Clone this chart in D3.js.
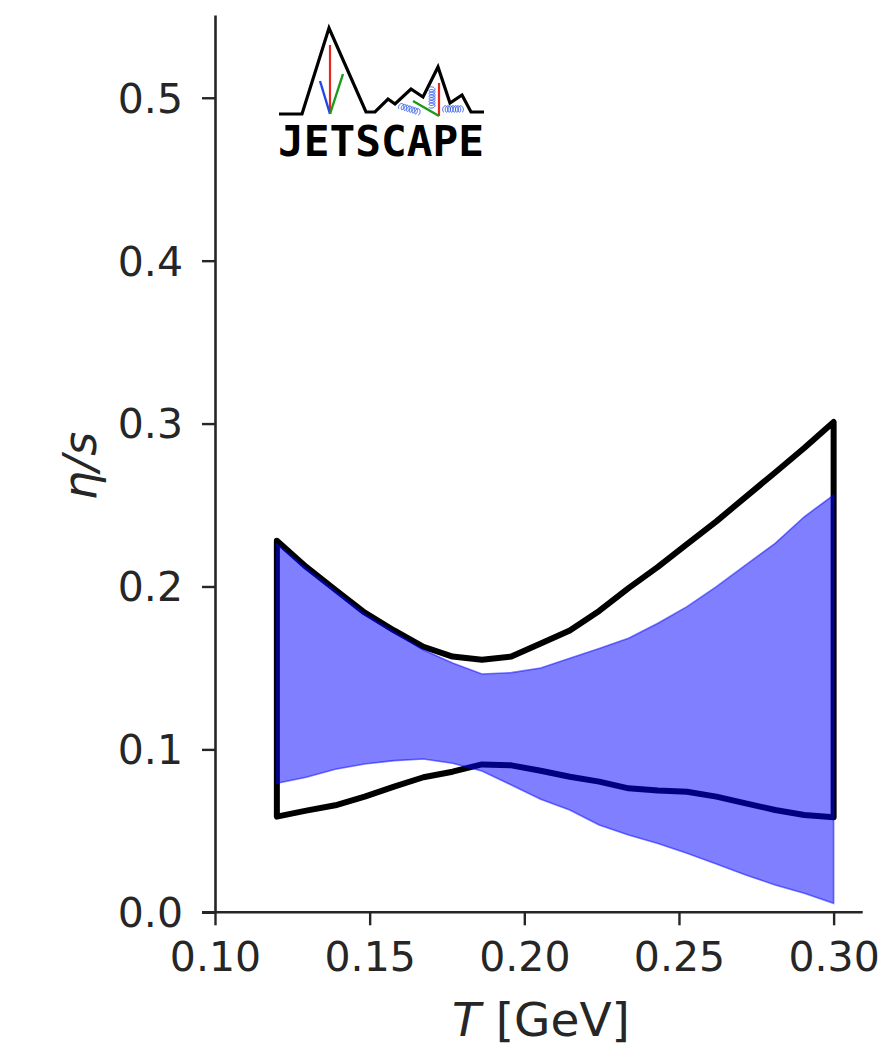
<!DOCTYPE html>
<html>
<head>
<meta charset="utf-8">
<script src="https://cdn.jsdelivr.net/npm/d3@7"></script>
<style>
  html, body { margin: 0; padding: 0; background: #fff; }
  svg { display: block; }
</style>
</head>
<body>
<svg id="chart" width="882" height="1047"></svg>
<script>
// ---- data ----
const temperature = [0.1200, 0.1295, 0.1389, 0.1484, 0.1579, 0.1674, 0.1768, 0.1863, 0.1958, 0.2053,
                     0.2147, 0.2242, 0.2337, 0.2432, 0.2526, 0.2621, 0.2716, 0.2811, 0.2905, 0.3000];
const priorUpper = [0.228, 0.212, 0.198, 0.184, 0.173, 0.163, 0.157, 0.155, 0.157, 0.165,
                    0.173, 0.185, 0.199, 0.212, 0.226, 0.240, 0.255, 0.270, 0.285, 0.301];
const priorLower = [0.0587, 0.0624, 0.0657, 0.0710, 0.0771, 0.0829, 0.0863, 0.0908, 0.0902, 0.0869,
                    0.0832, 0.0802, 0.0761, 0.0747, 0.0740, 0.0710, 0.0669, 0.0628, 0.0597, 0.0583];
const postUpper  = [0.226, 0.211, 0.197, 0.183, 0.172, 0.161, 0.153, 0.1463, 0.1471, 0.150,
                    0.1559, 0.162, 0.1682, 0.1774, 0.1876, 0.1999, 0.2132, 0.2265, 0.2428, 0.2561];
const postLower  = [0.0792, 0.0829, 0.0878, 0.0910, 0.0931, 0.0941, 0.0915, 0.0867, 0.0781, 0.0694,
                    0.0628, 0.0536, 0.0474, 0.0423, 0.0362, 0.0296, 0.0229, 0.0168, 0.0117, 0.0055];
const xTicks = [0.10, 0.15, 0.20, 0.25, 0.30];
const yTicks = [0.0, 0.1, 0.2, 0.3, 0.4, 0.5];

// ---- layout ----
const svg = d3.select("#chart");
const ink = "#262626";
const x = d3.scaleLinear().domain([0.10, 0.3094]).range([215, 862.7]);
const y = d3.scaleLinear().domain([0, 0.5508]).range([912.3, 15]);

// prior band outline (black closed polygon)
const rows = temperature.map((t, i) => ({t, pu: priorUpper[i], pl: priorLower[i], qu: postUpper[i], ql: postLower[i]}));
const outline = rows.map(d => [x(d.t), y(d.pu)]).concat(rows.slice().reverse().map(d => [x(d.t), y(d.pl)]));
svg.append("path")
  .attr("d", d3.line()(outline) + "Z")
  .attr("fill", "none")
  .attr("stroke", "#000")
  .attr("stroke-width", 6)
  .attr("stroke-linejoin", "round")
  .attr("stroke-linecap", "round");

// posterior band (blue, alpha 0.5)
const area = d3.area().x(d => x(d.t)).y0(d => y(d.ql)).y1(d => y(d.qu));
svg.append("path")
  .attr("d", area(rows) + "Z")
  .attr("fill", "blue")
  .attr("fill-opacity", 0.5)
  .attr("stroke", "blue")
  .attr("stroke-opacity", 0.5)
  .attr("stroke-width", 1.6);

// ---- axes ----
const xAxis = svg.append("g").attr("transform", `translate(0,${y(0)})`)
  .call(d3.axisBottom(x).tickValues(xTicks).tickFormat(d3.format(".2f")).tickSize(13).tickSizeOuter(0));
const yAxis = svg.append("g").attr("transform", `translate(${x(0.10)},0)`)
  .call(d3.axisLeft(y).tickValues(yTicks).tickFormat(d3.format(".1f")).tickSize(13).tickSizeOuter(0));

[xAxis, yAxis].forEach(g => {
  g.select(".domain").attr("stroke", ink).attr("stroke-width", 2.6);
  g.selectAll(".tick line").attr("stroke", ink).attr("stroke-width", 2.4);
  g.selectAll(".tick text")
    .attr("fill", ink)
    .style("font-family", "'DejaVu Sans', sans-serif")
    .style("font-size", "41px");
});
xAxis.selectAll(".tick text").attr("y", 30).attr("dy", "0.71em");
yAxis.selectAll(".tick text").attr("x", -32).attr("dy", "0.35em");
xAxis.select(".domain").attr("d", `M${x(0.10) - 13},0H${x(0.3094)}`);

// axis labels
svg.append("text")
  .attr("x", 541).attr("y", 1036)
  .attr("text-anchor", "middle")
  .attr("fill", ink)
  .style("font-family", "'DejaVu Sans', sans-serif")
  .style("font-size", "47px")
  .html('<tspan font-style="italic">T</tspan> [GeV]');

svg.append("text")
  .attr("transform", "translate(96,466) rotate(-90)")
  .attr("text-anchor", "middle")
  .attr("fill", ink)
  .style("font-family", "'DejaVu Sans', sans-serif")
  .style("font-size", "46px")
  .style("font-style", "italic")
  .text("η/s");

// ---- JETSCAPE logo (decoration) ----
const logo = svg.append("g");
const mountain = [[279,114],[302,114],[329,28],[366,112],[375,112],[388,99],[395,104],[411,89],[423,97],
                  [438,67],[450,103],[462,95],[471,112],[484,112]];
logo.append("path").attr("d", d3.line()(mountain))
  .attr("fill", "none").attr("stroke", "#000").attr("stroke-width", 3.2).attr("stroke-linejoin", "miter");
logo.append("line").attr("x1", 330).attr("y1", 45).attr("x2", 330).attr("y2", 114).attr("stroke", "#e8271c").attr("stroke-width", 2.2);
logo.append("line").attr("x1", 320).attr("y1", 81).attr("x2", 330).attr("y2", 114).attr("stroke", "#2345e8").attr("stroke-width", 2.4);
logo.append("line").attr("x1", 343).attr("y1", 74).attr("x2", 330).attr("y2", 114).attr("stroke", "#1a9a1a").attr("stroke-width", 2.4);
logo.append("line").attr("x1", 439).attr("y1", 83).attr("x2", 439).attr("y2", 116).attr("stroke", "#e8271c").attr("stroke-width", 2.2);
logo.append("line").attr("x1", 413).attr("y1", 101).attr("x2", 439).attr("y2", 116).attr("stroke", "#1a9a1a").attr("stroke-width", 2.4);

function coil(x0, y0, x1, y1, loops, r) {
  const dx = x1 - x0, dy = y1 - y0, L = Math.hypot(dx, dy);
  const ux = dx / L, uy = dy / L, vx = -uy, vy = ux;
  const pts = [];
  const N = loops * 24;
  for (let k = 0; k <= N; k++) {
    const s = k / N, th = s * loops * 2 * Math.PI;
    const a = s * L - r * 0.6 * Math.sin(th);
    const b = r * Math.cos(th);
    pts.push([x0 + ux * a + vx * b, y0 + uy * a + vy * b]);
  }
  logo.append("path").attr("d", d3.line()(pts))
    .attr("fill", "none").attr("stroke", "#2f5ae8").attr("stroke-width", 0.9);
}
coil(400, 106, 419, 112, 7, 3);
coil(432, 88, 432, 107, 7, 3);
coil(444, 109, 462, 109, 7, 3.2);

logo.append("text")
  .attr("x", 278).attr("y", 156)
  .attr("textLength", 206).attr("lengthAdjust", "spacingAndGlyphs")
  .attr("fill", "#000")
  .style("font-family", "'DejaVu Sans Mono', monospace")
  .style("font-weight", "bold")
  .style("font-size", "42px")
  .text("JETSCAPE");
</script>
</body>
</html>
